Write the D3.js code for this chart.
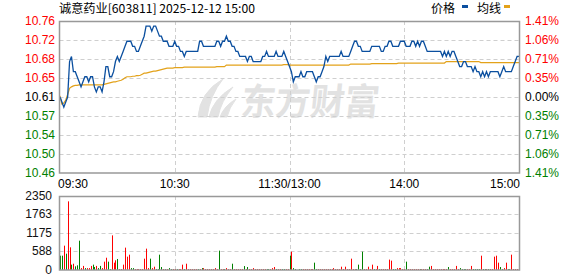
<!DOCTYPE html>
<html>
<head>
<meta charset="utf-8">
<script src="https://cdn.jsdelivr.net/npm/d3@7"></script>
<style>
body { margin: 0; background: #fff; }
svg { display: block; }
</style>
</head>
<body>
<svg id="chart" width="578" height="276"></svg>
<script>
// Data
const title = "诚意药业[603811] 2025-12-12 15:00";
const prevClose = 10.61;
const priceTicks = [10.76, 10.7225, 10.685, 10.6475, 10.61, 10.5725, 10.535, 10.4975, 10.46];
const priceLabels = ["10.76", "10.72", "10.68", "10.65", "10.61", "10.57", "10.54", "10.50", "10.46"];
const pctLabels = ["1.41%", "1.06%", "0.71%", "0.35%", "0.00%", "0.35%", "0.71%", "1.06%", "1.41%"];
const timeLabels = ["09:30", "10:30", "11:30/13:00", "14:00", "15:00"];
const timeIdx = [0, 60, 120, 180, 240];
const volTicks = [0, 588, 1175, 1763, 2350];

const price = [
  10.61,10.60,10.59,10.60,10.61,10.68,10.69,10.66,10.66,10.65,
  10.64,10.63,10.64,10.65,10.65,10.64,10.65,10.65,10.63,10.62,
  10.63,10.63,10.62,10.64,10.67,10.67,10.65,10.65,10.66,10.68,
  10.69,10.68,10.69,10.70,10.71,10.72,10.72,10.72,10.71,10.71,
  10.70,10.70,10.71,10.72,10.73,10.75,10.75,10.75,10.74,10.75,
  10.75,10.74,10.73,10.73,10.72,10.72,10.72,10.71,10.71,10.71,
  10.72,10.71,10.71,10.70,10.70,10.69,10.70,10.70,10.70,10.70,
  10.70,10.70,10.70,10.72,10.72,10.71,10.71,10.71,10.71,10.71,
  10.71,10.71,10.72,10.72,10.71,10.72,10.72,10.73,10.72,10.72,
  10.71,10.71,10.70,10.70,10.69,10.69,10.69,10.69,10.68,10.69,
  10.69,10.68,10.68,10.68,10.68,10.68,10.69,10.69,10.70,10.69,
  10.69,10.69,10.69,10.70,10.69,10.69,10.69,10.70,10.69,10.68,
  10.67,10.66,10.64,10.65,10.65,10.65,10.66,10.65,10.65,10.66,
  10.66,10.66,10.66,10.65,10.64,10.65,10.65,10.66,10.67,10.69,
  10.68,10.69,10.69,10.69,10.69,10.69,10.69,10.70,10.69,10.69,
  10.69,10.69,10.70,10.71,10.72,10.72,10.71,10.71,10.70,10.70,
  10.70,10.70,10.70,10.71,10.71,10.71,10.71,10.71,10.70,10.70,
  10.71,10.71,10.72,10.72,10.71,10.71,10.71,10.71,10.72,10.72,
  10.72,10.71,10.71,10.71,10.72,10.72,10.71,10.72,10.71,10.72,
  10.72,10.71,10.70,10.70,10.70,10.70,10.70,10.70,10.70,10.70,
  10.69,10.70,10.69,10.70,10.69,10.70,10.70,10.69,10.68,10.67,
  10.67,10.68,10.68,10.67,10.67,10.67,10.66,10.67,10.66,10.66,
  10.65,10.66,10.65,10.66,10.65,10.66,10.66,10.66,10.66,10.66,
  10.65,10.66,10.67,10.66,10.66,10.66,10.66,10.67,10.68,10.69,
  10.69
];

const avgPrice = [
  10.612,10.596,10.598,10.604,10.615,10.627,10.630,10.632,10.633,10.633,
  10.634,10.634,10.634,10.634,10.634,10.634,10.634,10.634,10.634,10.634,
  10.634,10.634,10.634,10.635,10.636,10.637,10.638,10.639,10.640,10.640,
  10.641,10.642,10.643,10.645,10.648,10.650,10.650,10.650,10.651,10.651,
  10.652,10.652,10.653,10.655,10.657,10.657,10.658,10.659,10.660,10.661,
  10.661,10.662,10.663,10.664,10.665,10.666,10.667,10.667,10.667,10.667,
  10.668,10.668,10.668,10.668,10.668,10.669,10.669,10.669,10.669,10.669,
  10.669,10.669,10.669,10.669,10.669,10.669,10.669,10.669,10.669,10.669,
  10.669,10.669,10.670,10.670,10.670,10.670,10.670,10.673,10.673,10.673,
  10.673,10.673,10.673,10.673,10.673,10.673,10.673,10.673,10.673,10.673,
  10.673,10.673,10.673,10.673,10.673,10.673,10.673,10.673,10.673,10.673,
  10.673,10.673,10.673,10.673,10.673,10.673,10.673,10.674,10.674,10.674,
  10.673,10.673,10.673,10.673,10.673,10.673,10.673,10.673,10.673,10.673,
  10.673,10.673,10.673,10.673,10.673,10.673,10.673,10.673,10.673,10.673,
  10.673,10.673,10.673,10.673,10.673,10.673,10.673,10.673,10.673,10.673,
  10.673,10.673,10.675,10.675,10.675,10.675,10.675,10.675,10.675,10.675,
  10.675,10.675,10.675,10.676,10.676,10.676,10.676,10.676,10.676,10.676,
  10.676,10.676,10.676,10.676,10.676,10.676,10.676,10.677,10.677,10.677,
  10.677,10.677,10.677,10.677,10.677,10.677,10.677,10.677,10.677,10.677,
  10.677,10.677,10.677,10.677,10.677,10.677,10.677,10.677,10.677,10.677,
  10.677,10.677,10.680,10.680,10.680,10.680,10.680,10.680,10.680,10.680,
  10.680,10.680,10.680,10.680,10.680,10.680,10.680,10.680,10.680,10.680,
  10.678,10.678,10.678,10.678,10.678,10.678,10.678,10.678,10.678,10.678,
  10.678,10.678,10.678,10.678,10.678,10.678,10.678,10.678,10.678,10.678,
  10.678
];

const volume = [
  455,455,773,518,2180,720,170,200,116,148,
  931,60,130,60,60,60,130,170,95,130,
  60,130,60,265,390,265,30,1100,233,308,
  350,30,30,170,710,424,487,60,60,30,
  30,30,30,30,360,678,60,360,60,105,
  30,30,487,95,30,30,30,60,30,30,
  30,30,30,30,170,30,200,30,30,30,
  30,30,30,30,60,60,30,30,30,30,
  30,60,30,615,30,30,30,60,30,30,
  200,30,30,30,30,30,125,30,95,30,
  30,60,30,30,30,30,30,30,30,30,
  30,60,95,30,30,30,30,30,30,30,
  455,582,60,30,0,30,30,30,30,30,
  30,30,30,233,30,30,30,30,30,30,
  30,30,30,60,30,30,30,105,30,105,
  30,30,360,30,30,30,170,30,582,30,
  30,105,30,170,30,30,130,30,30,30,
  30,30,330,297,30,30,60,60,60,30,
  30,265,30,30,30,30,30,30,30,30,
  30,30,30,105,130,30,30,30,30,30,
  30,30,30,95,30,30,30,130,30,60,
  30,30,30,30,30,130,30,30,30,30,
  455,30,30,30,30,30,30,424,455,233,
  95,30,60,233,30,30,487,30,30,30,
  647
];

// r = up (red), g = down (green), one per minute
const volDir = (
  "ggrgrrgrgg" + "grrgrrrggr" + "ggrrrggrrr" + "grrrrrrggr" + "rrrrrrrgrr" +
  "ggggrgrggr" + "rgrrrgrrrr" + "rrgrgrrrrr" + "rrrgrrgrrr" + "grrrrrgrgr" +
  "rrrrrrrrgg" + "rrrgrrggrr" + "grgggggrrr" + "rrrggrrrrr" + "rrrrrrrrrr" +
  "rrrrrggggr" + "rrrrgrrgrr" + "rrrrggrrrr" + "rgrrrrrrgr" + "rrggrrrrrr" +
  "rrrgrrrrrg" + "gggrrrgggg" + "rggrgrrrrr" + "ggrrggrrrr" + "r"
).split("");

// Setup
const svg = d3.select("#chart");
const RED = "#ff0000", GREEN = "#008000", BORDER = "#999", GRID = "#cfcfcf";
const left = 59.5, right = 519.5;

const x = d3.scaleLinear().domain([0, 240]).range([60, 519]);
const y = d3.scaleLinear().domain([10.46, 10.76]).range([173, 21]);
const yVol = d3.scaleLinear().domain([0, 2350]).range([270, 196]);

svg.append("rect").attr("width", 578).attr("height", 276).attr("fill", "#fff");

// Title + legend
svg.append("text")
  .attr("x", 59).attr("y", 13)
  .style("font", "12px 'Noto Sans CJK SC', sans-serif")
  .attr("fill", "#000")
  .attr("textLength", 196).attr("lengthAdjust", "spacingAndGlyphs")
  .text(title);

const legend = svg.append("g").style("font", "12px 'Noto Sans CJK SC', sans-serif");
legend.append("text").attr("x", 431).attr("y", 13).text("价格");
legend.append("rect").attr("x", 462).attr("y", 5).attr("width", 6).attr("height", 3).attr("fill", "#0b4f9f");
legend.append("text").attr("x", 477).attr("y", 13).text("均线");
legend.append("rect").attr("x", 504).attr("y", 5).attr("width", 6).attr("height", 3).attr("fill", "#e3a21a");

// Watermark
const wm = svg.append("g").attr("fill", "#e2e2e2").attr("stroke", "#e2e2e2");
wm.append("path")
  .attr("d", "M198,117 Q200,92 223,79 Q210,95 207,117 Z M209,117 Q213,99 233,87 Q221,101 218,117 Z M220,117 Q224,106 236,99 Q229,108 227,117 Z")
  .attr("stroke-width", 1);
wm.append("text")
  .attr("x", 240).attr("y", 115)
  .attr("stroke", "none")
  .attr("transform", "skewX(-6) translate(12,0)")
  .attr("textLength", 138).attr("lengthAdjust", "spacingAndGlyphs")
  .style("font", "bold 37px 'Noto Sans CJK SC', sans-serif")
  .text("东方财富");

// Price grid
const gridP = svg.append("g").attr("stroke", GRID).attr("stroke-dasharray", "4,3");
gridP.selectAll("line.h")
  .data(priceTicks.slice(1, -1))
  .join("line")
    .attr("x1", left).attr("x2", right)
    .attr("y1", d => Math.round(y(d)) + 0.5).attr("y2", d => Math.round(y(d)) + 0.5);
gridP.selectAll("line.v")
  .data(timeIdx.slice(1, -1))
  .join("line")
    .attr("class", "v")
    .attr("y1", 21).attr("y2", 173)
    .attr("x1", d => Math.round(x(d)) + 0.5).attr("x2", d => Math.round(x(d)) + 0.5);

// Lines
svg.append("path")
  .datum(avgPrice)
  .attr("fill", "none").attr("stroke", "#e3a21a").attr("stroke-width", 1.2)
  .attr("d", d3.line().x((d, i) => x(i)).y(d => y(d)));
svg.append("path")
  .datum(price)
  .attr("fill", "none").attr("stroke", "#0b4f9f").attr("stroke-width", 1.3)
  .attr("stroke-linejoin", "miter")
  .attr("d", d3.line().x((d, i) => x(i)).y(d => y(d)));

svg.append("rect")
  .attr("x", left).attr("y", 21.5).attr("width", right - left).attr("height", 151.5)
  .attr("fill", "none").attr("stroke", BORDER).attr("stroke-width", 1.5);

// Price axis labels
const colorFor = i => i < 4 ? RED : (i === 4 ? "#000" : GREEN);
svg.append("g").style("font", "12px 'Liberation Sans', Arial, sans-serif")
  .selectAll("text")
  .data(priceTicks)
  .join("text")
    .attr("x", 55).attr("y", d => y(d) + 4)
    .attr("text-anchor", "end")
    .attr("fill", (d, i) => colorFor(i))
    .text((d, i) => priceLabels[i]);
svg.append("g").style("font", "12px 'Liberation Sans', Arial, sans-serif")
  .selectAll("text")
  .data(priceTicks)
  .join("text")
    .attr("x", 525).attr("y", d => y(d) + 4)
    .attr("fill", (d, i) => colorFor(i))
    .text((d, i) => pctLabels[i]);

// Time labels
svg.append("g").style("font", "12px 'Liberation Sans', Arial, sans-serif")
  .selectAll("text")
  .data(timeIdx)
  .join("text")
    .attr("x", (d, i) => i === 0 ? 58 : (i === timeIdx.length - 1 ? 520 : x(d)))
    .attr("y", 188)
    .attr("text-anchor", (d, i) => i === 0 ? "start" : (i === timeIdx.length - 1 ? "end" : "middle"))
    .attr("fill", "#000")
    .text((d, i) => timeLabels[i]);

// Volume grid
const gridV = svg.append("g").attr("stroke", GRID).attr("stroke-dasharray", "4,3");
gridV.selectAll("line.h")
  .data(volTicks.slice(1, -1))
  .join("line")
    .attr("x1", left).attr("x2", right)
    .attr("y1", d => Math.round(yVol(d)) + 0.5).attr("y2", d => Math.round(yVol(d)) + 0.5);
gridV.selectAll("line.v")
  .data(timeIdx.slice(1, -1))
  .join("line")
    .attr("class", "v")
    .attr("y1", 196).attr("y2", 270)
    .attr("x1", d => Math.round(x(d)) + 0.5).attr("x2", d => Math.round(x(d)) + 0.5);

// Volume bars
svg.append("g")
  .selectAll("rect")
  .data(volume)
  .join("rect")
    .attr("x", (d, i) => Math.round(x(i)))
    .attr("width", 1)
    .attr("y", d => yVol(d))
    .attr("height", d => 270 - yVol(d))
    .attr("fill", (d, i) => volDir[i] === "r" ? RED : GREEN);

svg.append("rect")
  .attr("x", left).attr("y", 196.5).attr("width", right - left).attr("height", 73.5)
  .attr("fill", "none").attr("stroke", BORDER).attr("stroke-width", 1.5);

// Volume labels
svg.append("g").style("font", "12px 'Liberation Sans', Arial, sans-serif")
  .selectAll("text")
  .data(volTicks)
  .join("text")
    .attr("x", 52).attr("y", d => yVol(d) + 4)
    .attr("text-anchor", "end")
    .attr("fill", "#111")
    .text(d => d);
</script>
</body>
</html>
